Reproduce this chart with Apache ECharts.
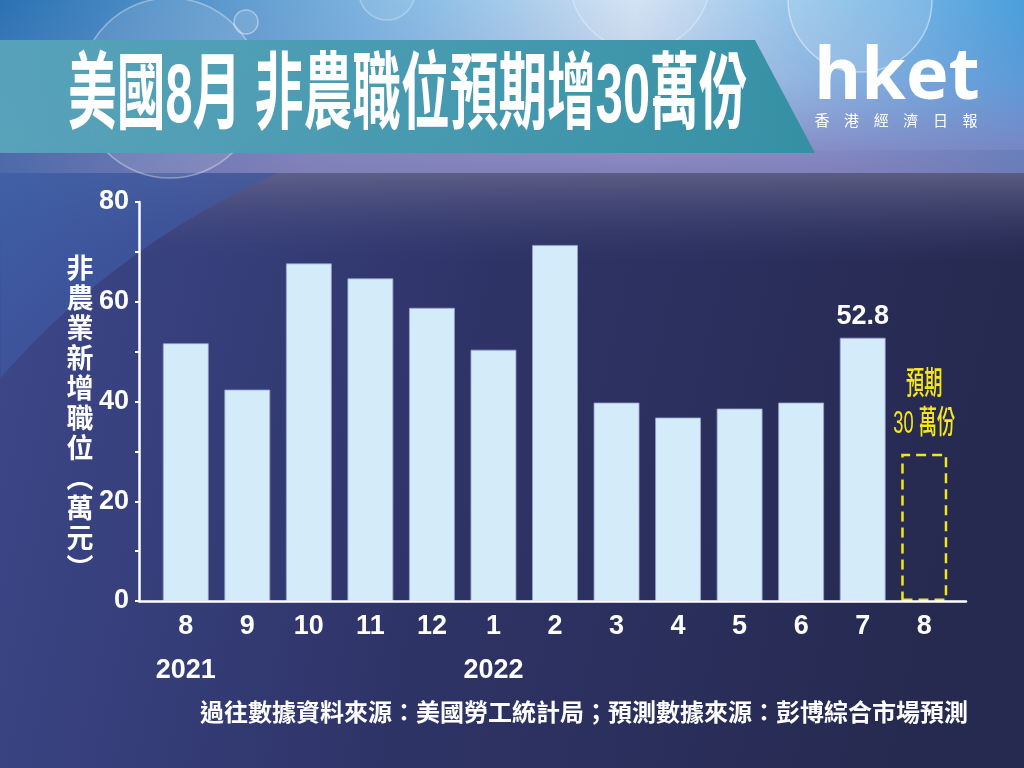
<!DOCTYPE html>
<html><head><meta charset="utf-8">
<script src="https://cdn.jsdelivr.net/npm/echarts@6/dist/echarts.min.js"></script>
<style>html,body{margin:0;padding:0;background:#2e3466}#c{width:1024px;height:768px}</style>
</head><body><div id="c"></div>
<script>
const title = '美國8月 非農職位預期增30萬份';
const months = ['8','9','10','11','12','1','2','3','4','5','6','7','8'];
const years = ['2021','','','','','2022','','','','','','',''];
const values = [51.7, 42.4, 67.7, 64.7, 58.8, 50.4, 71.4, 39.8, 36.8, 38.6, 39.8, 52.8, 29.5];
const labeledIndex = 11;
const forecastIndex = 12;
const forecastNote = ['預期', '30 萬份'];
const yTicks = [0, 20, 40, 60, 80];
const yName = ['非','農','業','新','增','職','位','︵','萬','元','︶'];
const source = '過往數據資料來源：美國勞工統計局；預測數據來源：彭博綜合市場預測';
const logoMain = 'hket';
const logoSub = ['香','港','經','濟','日','報'];

const NUM = '"Liberation Sans", "Noto Sans CJK TC", sans-serif';
const CJK = '"Noto Sans CJK TC", "Liberation Sans", sans-serif';

const chart = echarts.init(document.getElementById('c'), null, {renderer: 'canvas'});

const seriesData = values.map((v, i) => {
  const item = {value: v};
  if (i === forecastIndex) {
    item.itemStyle = {color: 'rgba(0,0,0,0)', borderColor: '#f3e51b', borderWidth: 2.5, borderType: [10, 6]};
  } else {
    item.itemStyle = {color: '#d4ecf9', borderColor: 'rgba(150,160,205,0.8)', borderWidth: 1};
  }
  if (i === labeledIndex) {
    item.label = {show: true, position: 'top', distance: 8, color: '#fff', fontSize: 27, fontWeight: 'bold', fontFamily: NUM, formatter: '{c}'};
  }
  return item;
});

function lin(x2, y2, stops) {
  return {type: 'linear', x: 0, y: 0, x2: x2, y2: y2, colorStops: stops.map(s => ({offset: s[0], color: s[1]}))};
}

function bubble(id, cx, cy, r, op) {
  return {type: 'circle', id: id, z: -5, silent: true, shape: {cx: cx, cy: cy, r: r},
    style: {fill: 'rgba(255,255,255,' + (op * 0.3) + ')', stroke: 'rgba(255,255,255,' + op + ')', lineWidth: 1.5}};
}

// decorative arc edge of the blue glow (left of a large circle)
function glowPoints() {
  const cx = 600, cy = 900, r = 795;
  const pts = [[0, 173]];
  for (let k = 0; k <= 24; k++) {
    const y = 173 + (378 - 173) * k / 24;
    const x = cx - Math.sqrt(Math.max(0, r * r - (y - cy) * (y - cy)));
    pts.push([Math.max(0, x), y]);
  }
  return pts;
}

function buildGraphics(ann) {
  const g = [
    {type: 'rect', id: 'hdr', z: -10, silent: true, shape: {x: 0, y: 0, width: 1024, height: 173},
      style: {fill: lin(1, 0, [[0, '#2a72b3'], [0.4, '#86bbe4'], [0.62, '#cfe0f2'], [0.8, '#8cc0e8'], [1, '#4a9fdc']])}},
    {type: 'rect', id: 'hdr2', z: -9, silent: true, shape: {x: 0, y: 0, width: 1024, height: 173},
      style: {fill: lin(0, 1, [[0, 'rgba(140,140,200,0)'], [0.45, 'rgba(140,140,200,0.25)'], [1, 'rgba(128,124,186,0.95)']])}},
    {type: 'rect', id: 'hdr3', z: -9, silent: true, shape: {x: 0, y: 150, width: 1024, height: 23},
      style: {fill: lin(1, 0, [[0, 'rgba(72,104,168,0.9)'], [0.3, 'rgba(130,128,182,0.6)'], [0.8, 'rgba(130,128,182,0.3)'], [1, 'rgba(100,125,185,0.8)']])}},
    {type: 'rect', id: 'fade', z: -9, silent: true, shape: {x: 0, y: 173, width: 1024, height: 90},
      style: {fill: lin(0, 1, [[0, 'rgba(104,104,140,0.8)'], [1, 'rgba(60,66,120,0)']])}},
    {type: 'polygon', id: 'glow', z: -8, silent: true, shape: {points: glowPoints()},
      style: {fill: lin(0.6, 1, [[0, 'rgba(62,96,168,0.95)'], [1, 'rgba(62,84,160,0.5)']])}},
    bubble('b1', 170, 88, 90, 0.35),
    bubble('b2', 246, 22, 12, 0.4),
    bubble('b3', 387, -8, 28, 0.3),
    bubble('b4', 640, -20, 70, 0.3),
    bubble('b5', 860, 0, 72, 0.45),
    {type: 'polygon', id: 'banner', z: -4, silent: true, shape: {points: [[0, 40], [755, 40], [815, 153], [0, 153]]},
      style: {fill: lin(1, 0, [[0, 'rgba(88,164,186,0.96)'], [1, 'rgba(52,144,164,0.98)']])}},
    {type: 'text', id: 'title', z: 50, x: 68, y: 99, scaleX: 0.58, scaleY: 1, silent: true,
      style: {text: title, x: 0, y: 0, fill: '#ffffff', font: 'bold 84px ' + NUM, verticalAlign: 'middle', textAlign: 'left'}},
    {type: 'text', id: 'logo', z: 50, x: 814, y: 78, silent: true,
      style: {text: logoMain, fill: '#ffffff', font: 'bold 72px "Open Sans", "Noto Sans", sans-serif', verticalAlign: 'middle', textAlign: 'left'}},
    {type: 'text', id: 'yname', z: 50, x: 80, y: 253, silent: true,
      style: {text: yName.join('\n'), fill: '#ffffff', font: 'bold 27px ' + CJK, lineHeight: 30, textAlign: 'center', verticalAlign: 'top'}},
    {type: 'text', id: 'source', z: 50, x: 968, y: 712, silent: true,
      style: {text: source, fill: '#ffffff', font: 'bold 24px ' + CJK, textAlign: 'right', verticalAlign: 'middle'}}
  ];
  logoSub.forEach((ch, i) => {
    g.push({type: 'text', id: 'ls' + i, z: 50, x: 822 + 29.6 * i, y: 120, silent: true,
      style: {text: ch, fill: '#ffffff', font: '15px ' + CJK, textAlign: 'center', verticalAlign: 'middle'}});
  });
  if (ann) {
    const offs = [69, 30];
    forecastNote.forEach((t, i) => {
      g.push({type: 'text', id: 'ann' + i, z: 50, x: ann[0], y: ann[1] - offs[i], scaleX: 0.57, silent: true,
        style: {text: t, fill: '#f5e71c', font: '500 32px ' + NUM, textAlign: 'center', verticalAlign: 'middle'}});
    });
  }
  return g;
}

const option = {
  animation: false,
  backgroundColor: lin(1, 0.3, [[0, '#3e4a8e'], [0.5, '#2f3468'], [1, '#262a50']]),
  grid: [
    {left: 155, right: 69, top: 202, bottom: 167},
    {left: 139, right: 58, top: 202, bottom: 167}
  ],
  xAxis: [
    {type: 'category', gridIndex: 0, data: months, axisLine: {show: false}, axisTick: {show: false},
      axisLabel: {
        margin: 11, interval: 0, color: '#fff',
        formatter: (v, i) => years[i] ? '{m|' + v + '}\n{y|' + years[i] + '}' : '{m|' + v + '}',
        rich: {
          m: {fontSize: 27, fontWeight: 'bold', fontFamily: NUM, color: '#fff', lineHeight: 30},
          y: {fontSize: 27, fontWeight: 'bold', fontFamily: NUM, color: '#fff', lineHeight: 58}
        }
      }},
    {type: 'value', gridIndex: 1, min: 0, max: 1, z: 10,
      axisLine: {show: true, lineStyle: {color: '#fff', width: 2.5}},
      axisTick: {show: false}, axisLabel: {show: false}, splitLine: {show: false}}
  ],
  yAxis: [
    {type: 'value', gridIndex: 0, min: 0, max: 80, show: false},
    {type: 'value', gridIndex: 1, min: 0, max: 80, interval: 10, z: 10,
      axisLine: {show: true, lineStyle: {color: '#fff', width: 2.5}},
      axisTick: {show: true, length: 4, lineStyle: {color: '#fff', width: 2}},
      axisLabel: {color: '#fff', fontSize: 27, fontWeight: 'bold', fontFamily: NUM, margin: 10,
        formatter: v => yTicks.includes(v) ? String(v) : ''},
      splitLine: {show: false}}
  ],
  series: [{
    type: 'bar', xAxisIndex: 0, yAxisIndex: 0, barWidth: 46, data: seriesData
  }],
  graphic: buildGraphics(null)
};

chart.setOption(option);
const ann = chart.convertToPixel({xAxisIndex: 0, yAxisIndex: 0}, [forecastIndex, values[forecastIndex]]);
chart.setOption({graphic: buildGraphics(ann)});
</script>
</body></html>
